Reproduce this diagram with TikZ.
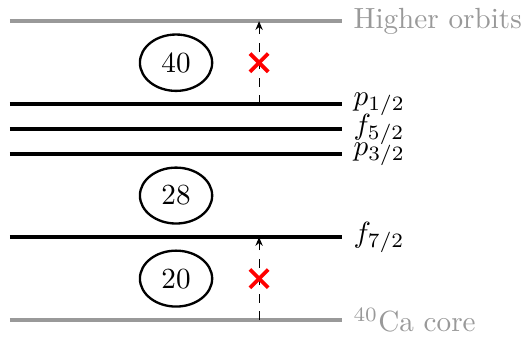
\documentclass[tikz,border=0pt]{standalone}
\usepackage{tikz}
\usetikzlibrary{positioning,arrows.meta,shapes.geometric,calc}
\usepackage{xcolor}
\definecolor{coregray}{HTML}{999999}
\definecolor{crossred}{HTML}{FF0000}

\tikzset{
    level/.style={line width=1.2pt},
    outerlevel/.style={line width=1.2pt, color=coregray},
    magic/.style={draw, ellipse, thick, minimum width=0.87cm, minimum height=0.52cm},
    blocked/.style={dashed, ->, >={Stealth[length=3pt,width=2.5pt]}},
    cross/.style={line width=1.3pt, color=crossred}
}

\begin{document}
\begin{tikzpicture}
        \useasboundingbox (-0.12,-0.217) rectangle (6.19,3.855);

        % Core and higher orbits
        \draw[outerlevel] (0,0) -- (4,0) node[right, text=coregray] (core) {$^{40}$Ca core};
        \draw[outerlevel] (0,3.6) -- (4,3.6) node[right, text=coregray] (higher) {Higher orbits};

        % Shell levels
        \draw[level] (0,1) -- (4,1) node[right] (f72) {$f_{7/2}$};
        \draw[level] (0,2) -- (4,2) node[right] (p32) {$p_{3/2}$};
        \draw[level] (0,2.3) -- (4,2.3) node[right] (f52) {$f_{5/2}$};
        \draw[level] (0,2.6) -- (4,2.6) node[right] (p12) {$p_{1/2}$};

        % Magic numbers
        \node[magic] (n20) at (2,0.5) {20};
        \node[magic] (n28) at (2,1.5) {28};
        \node[magic] (n40) at (2,3.1) {40};

        % Forbidden excitations
        \coordinate (lowstart) at (3,0);
        \coordinate (lowend) at (3,1);
        \coordinate (highstart) at (3,2.6);
        \coordinate (highend) at (3,3.6);
        \draw[blocked] (lowstart) -- (lowend);
        \draw[blocked] (highstart) -- (highend);

        \coordinate (xlow) at (3,0.5);
        \coordinate (xhigh) at (3,3.1);
        \draw[cross] ($(xlow)+(-0.11,-0.11)$) -- ($(xlow)+(0.11,0.11)$);
        \draw[cross] ($(xlow)+(-0.11,0.11)$) -- ($(xlow)+(0.11,-0.11)$);
        \draw[cross] ($(xhigh)+(-0.11,-0.11)$) -- ($(xhigh)+(0.11,0.11)$);
        \draw[cross] ($(xhigh)+(-0.11,0.11)$) -- ($(xhigh)+(0.11,-0.11)$);
\end{tikzpicture}
\end{document}
